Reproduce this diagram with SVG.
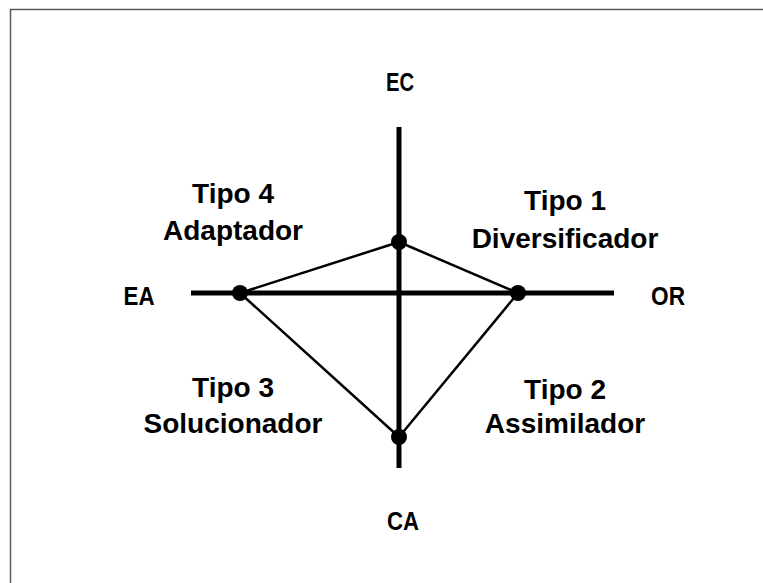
<svg xmlns="http://www.w3.org/2000/svg" width="763" height="583" viewBox="0 0 763 583">
<style>
.axis{stroke:#000;stroke-width:5;fill:none}
.edge{stroke:#000;stroke-width:2.5;fill:none}
.dot{fill:#000}
.ax{font-family:"Liberation Sans",Arial,sans-serif;font-weight:bold;font-size:25px;fill:#000;text-anchor:middle}
.tp{font-family:"Liberation Sans",Arial,sans-serif;font-weight:bold;font-size:28px;fill:#000;text-anchor:middle}
</style>
<rect x="0" y="0" width="763" height="583" fill="#fff"/>
<rect x="10.5" y="9.5" width="800" height="700" fill="none" stroke="#5a5a5a" stroke-width="1.5"/>
<g id="connectors">
<line class="axis" x1="399" y1="127" x2="399" y2="468"/>
<line class="axis" x1="191" y1="293" x2="614" y2="293"/>
<line class="edge" x1="240" y1="293" x2="399" y2="242"/>
<line class="edge" x1="399" y1="242" x2="518" y2="293"/>
<line class="edge" x1="240" y1="293" x2="399" y2="437"/>
<line class="edge" x1="518" y1="293" x2="399" y2="437"/>
</g>
<g id="dot-top"><circle class="dot" cx="399" cy="242" r="8"/></g>
<g id="dot-left"><circle class="dot" cx="240" cy="293" r="8"/></g>
<g id="dot-right"><circle class="dot" cx="518" cy="293" r="8"/></g>
<g id="dot-bottom"><circle class="dot" cx="399" cy="437" r="8"/></g>
<g id="label-EC"><text class="ax" x="400" y="91" textLength="28" lengthAdjust="spacingAndGlyphs">EC</text></g>
<g id="label-EA"><text class="ax" x="139" y="305" textLength="31" lengthAdjust="spacingAndGlyphs">EA</text></g>
<g id="label-OR"><text class="ax" x="668" y="305" textLength="34" lengthAdjust="spacingAndGlyphs">OR</text></g>
<g id="label-CA"><text class="ax" x="403" y="530" textLength="32" lengthAdjust="spacingAndGlyphs">CA</text></g>
<g id="tipo4"><text class="tp" x="233" y="203">Tipo 4</text><text class="tp" x="233" y="240">Adaptador</text></g>
<g id="tipo1"><text class="tp" x="565" y="210">Tipo 1</text><text class="tp" x="565" y="248">Diversificador</text></g>
<g id="tipo3"><text class="tp" x="233" y="397">Tipo 3</text><text class="tp" x="233" y="433">Solucionador</text></g>
<g id="tipo2"><text class="tp" x="565" y="399">Tipo 2</text><text class="tp" x="565" y="433">Assimilador</text></g>
</svg>
